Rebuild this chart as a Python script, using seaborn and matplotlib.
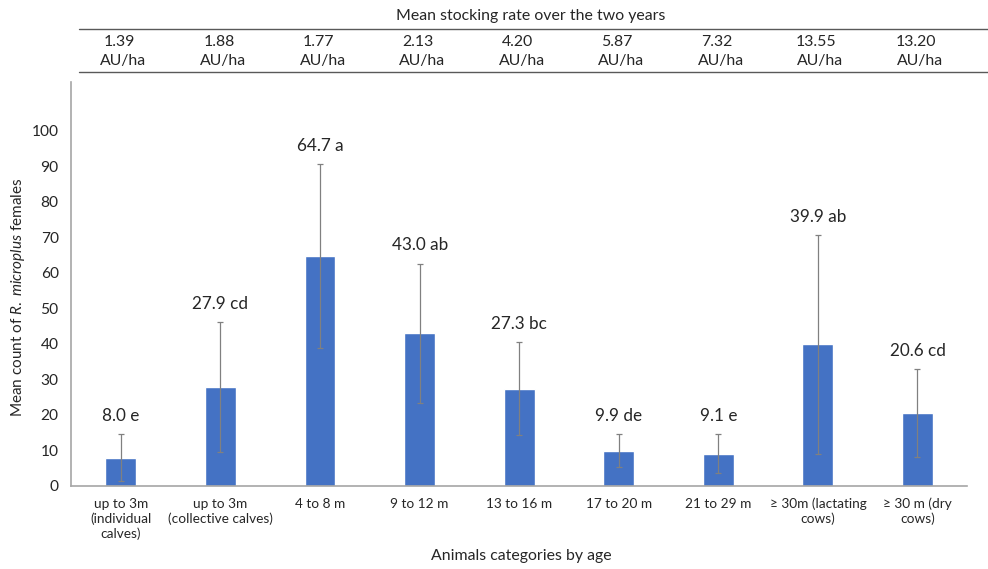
import matplotlib
matplotlib.use("Agg")
import matplotlib.pyplot as plt
import seaborn as sns
import pandas as pd
import numpy as np

# Animal categories (x axis)
categories = [
    "up to 3m\n(individual\ncalves)",
    "up to 3m\n(collective calves)",
    "4 to 8 m",
    "9 to 12 m",
    "13 to 16 m",
    "17 to 20 m",
    "21 to 29 m",
    "\u2265 30m (lactating\ncows)",
    "\u2265 30 m (dry\ncows)",
]
# Mean tick counts and their significance letters
mean_counts = [8.0, 27.9, 64.7, 43.0, 27.3, 9.9, 9.1, 39.9, 20.6]
letters = ["e", "cd", "a", "ab", "bc", "de", "e", "ab", "cd"]
# Half-length of the error bars
errors = [6.6, 18.3, 25.8, 19.6, 13.1, 4.7, 5.5, 30.8, 12.4]
# Mean stocking rate per category (AU/ha)
stocking_rates = ["1.39", "1.88", "1.77", "2.13", "4.20", "5.87", "7.32", "13.55", "13.20"]

FONT = "Lato"
TEXT = "#262626"
sns.set_theme(style="white")
plt.rcParams["font.family"] = [FONT, "DejaVu Sans"]
plt.rcParams["mathtext.fontset"] = "custom"
plt.rcParams["mathtext.rm"] = FONT
plt.rcParams["mathtext.it"] = f"{FONT}:italic"

df = pd.DataFrame({"category": categories, "mean": mean_counts})

fig = plt.figure(figsize=(9.88, 5.69), dpi=100)
ax = fig.add_axes([0.072, 0.146, 0.907, 0.71])

sns.barplot(data=df, x="category", y="mean", color="#4472C4", saturation=1,
            width=0.31, errorbar=None, ax=ax)
x = np.arange(len(categories))
ax.errorbar(x, mean_counts, yerr=errors, fmt="none", ecolor="#808080",
            elinewidth=0.9, capsize=2.5, capthick=0.9)

for xi, m, e, let in zip(x, mean_counts, errors, letters):
    ax.annotate(f"{m:.1f} {let}", (xi, m + e), xytext=(0, 13),
                textcoords="offset points", ha="center", va="center",
                fontsize=12.3, color=TEXT)

ax.set_xlim(-0.5, len(categories) - 0.5)
ax.set_ylim(0, 113.7)
ax.set_yticks(range(0, 101, 10))
ax.tick_params(axis="y", labelsize=11.2, colors=TEXT, length=0, pad=9)
ax.tick_params(axis="x", labelsize=9.8, colors=TEXT, length=0, pad=8.5)
for lab in ax.get_xticklabels():
    lab.set_linespacing(1.25)

for side in ["top", "right"]:
    ax.spines[side].set_visible(False)
for side in ["left", "bottom"]:
    ax.spines[side].set_color("#a6a6a6")
    ax.spines[side].set_linewidth(1.2)

ax.set_xlabel("Animals categories by age", fontsize=11.4, color=TEXT)
ax.xaxis.set_label_coords(0.502, -0.155)
ax.xaxis.label.set_va("top")
ax.set_ylabel(r"Mean count of $\mathit{R.\ microplus}$ females", fontsize=11,
              color=TEXT)
ax.yaxis.set_label_coords(-0.049, 0.468)

# Stocking-rate table above the plot
fig.text(531 / 988, 1 - 16 / 569, "Mean stocking rate over the two years",
         ha="center", va="center", fontsize=11.4, color=TEXT)
for xi, rate in zip(x, stocking_rates):
    xf = ax.transData.transform((xi, 0))[0] / fig.bbox.width
    fig.text(xf - 1.5 / 988, 1 - 42 / 569, rate, ha="center", va="center",
             fontsize=11.4, color=TEXT)
    fig.text(xf + 2.5 / 988, 1 - 61 / 569, "AU/ha", ha="center", va="center",
             fontsize=11.4, color=TEXT)
for yline in (29, 72):
    fig.add_artist(plt.Line2D([79 / 988, 1.0], [1 - yline / 569] * 2,
                              color="#595959", linewidth=1.0))

fig.savefig("out.png", dpi=100, facecolor="white")
